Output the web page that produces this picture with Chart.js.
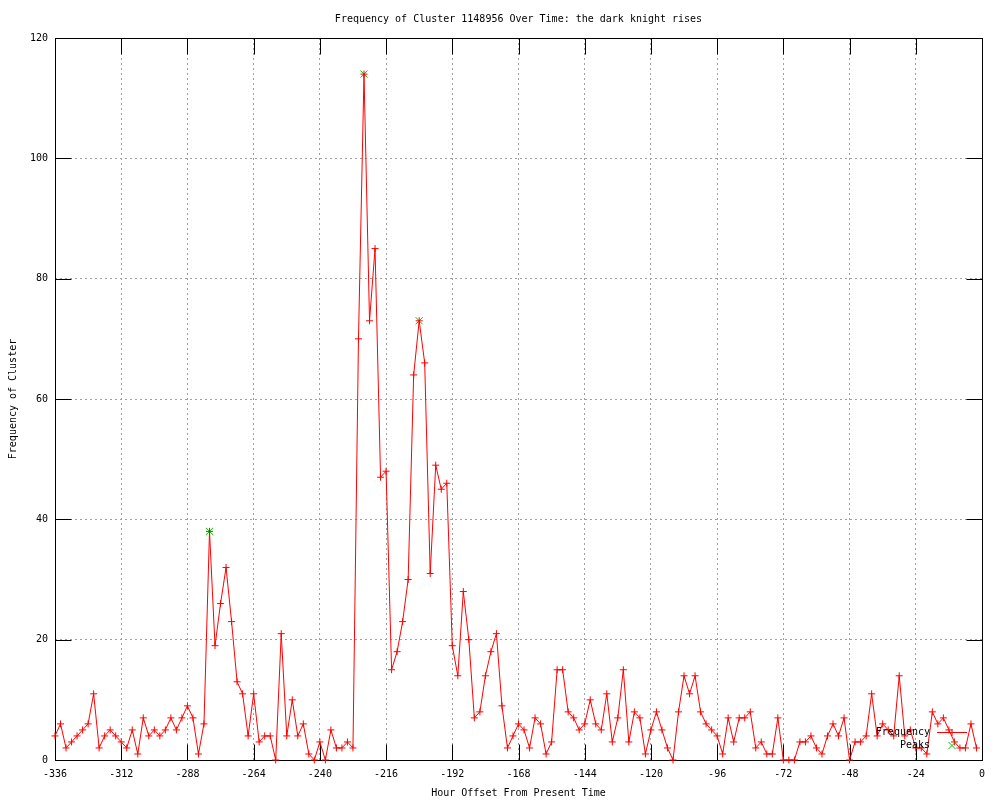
<!DOCTYPE html>
<html>
<head>
<meta charset="utf-8">
<script src="https://cdn.jsdelivr.net/npm/chart.js@4.4.1/dist/chart.umd.min.js"></script>
<style>
  html, body { margin: 0; padding: 0; background: #fff; }
  #wrap { width: 1000px; height: 800px; }
</style>
</head>
<body>
<div id="wrap"><canvas id="clusterChart" width="1000" height="800"></canvas></div>
<script>
// hours run from -336 in steps of 2 (one reading every two hours)
const hourStart = -336;
const hourStep = 2;
const frequency = [
  4, 6, 2, 3, 4, 5, 6, 11, 2, 4,
  5, 4, 3, 2, 5, 1, 7, 4, 5, 4,
  5, 7, 5, 7, 9, 7, 1, 6, 38, 19,
  26, 32, 23, 13, 11, 4, 11, 3, 4, 4,
  0, 21, 4, 10, 4, 6, 1, 0, 3, 0,
  5, 2, 2, 3, 2, 70, 114, 73, 85, 47,
  48, 15, 18, 23, 30, 64, 73, 66, 31, 49,
  45, 46, 19, 14, 28, 20, 7, 8, 14, 18,
  21, 9, 2, 4, 6, 5, 2, 7, 6, 1,
  3, 15, 15, 8, 7, 5, 6, 10, 6, 5,
  11, 3, 7, 15, 3, 8, 7, 1, 5, 8,
  5, 2, 0, 8, 14, 11, 14, 8, 6, 5,
  4, 1, 7, 3, 7, 7, 8, 2, 3, 1,
  1, 7, 0, 0, 0, 3, 3, 4, 2, 1,
  4, 6, 4, 7, 0, 3, 3, 4, 11, 4,
  6, 5, 4, 14, 4, 5, 2, 2, 1, 8,
  6, 7, 5, 3, 2, 2, 6, 2
];
const hours = frequency.map((v, i) => hourStart + i * hourStep);
const peakHours = [-280, -224, -204];
const peakValues = [38, 114, 73];

const FONT = 'DejaVu Sans Mono';

// gnuplot style box with inward ticks on all four sides
const frameTicks = {
  id: 'frameTicks',
  beforeDatasetsDraw(chart) {
    const { ctx, chartArea: a, scales: { x, y } } = chart;
    const L = Math.round(a.left) + 0.5, R = Math.round(a.right) + 0.5;
    const T = Math.round(a.top) + 0.5, B = Math.round(a.bottom) + 0.5;
    ctx.save();
    ctx.strokeStyle = '#000';
    ctx.lineWidth = 1;
    ctx.beginPath();
    x.ticks.forEach(t => {
      const px = Math.round(x.getPixelForValue(t.value)) + 0.5;
      ctx.moveTo(px, B); ctx.lineTo(px, B - 16);
      ctx.moveTo(px, T); ctx.lineTo(px, T + 16);
    });
    y.ticks.forEach(t => {
      const py = Math.round(y.getPixelForValue(t.value)) + 0.5;
      ctx.moveTo(L, py); ctx.lineTo(L + 16, py);
      ctx.moveTo(R, py); ctx.lineTo(R - 16, py);
    });
    ctx.stroke();
    ctx.strokeRect(L, T, R - L, B - T);
    ctx.restore();
  }
};

// key in the lower right corner, text left of the sample
const keyBox = {
  id: 'keyBox',
  afterDatasetsDraw(chart) {
    const { ctx, chartArea: a } = chart;
    const textX = a.right - 52;
    const sx1 = a.right - 45, sx2 = a.right - 15, sc = (sx1 + sx2) / 2;
    const y1 = a.bottom - 27.5, y2 = a.bottom - 14.5;
    ctx.save();
    ctx.font = '10px "' + FONT + '"';
    ctx.fillStyle = '#000';
    ctx.textAlign = 'right';
    ctx.textBaseline = 'middle';
    ctx.fillText('Frequency', textX, y1);
    ctx.fillText('Peaks', textX, y2);
    ctx.lineWidth = 1;
    ctx.strokeStyle = '#ff0000';
    ctx.beginPath();
    ctx.moveTo(sx1, y1); ctx.lineTo(sx2, y1);
    ctx.moveTo(sc, y1 - 3.5); ctx.lineTo(sc, y1 + 3.5);
    ctx.stroke();
    ctx.strokeStyle = '#00c000';
    ctx.beginPath();
    ctx.moveTo(sc - 3.5, y2 - 3.5); ctx.lineTo(sc + 3.5, y2 + 3.5);
    ctx.moveTo(sc - 3.5, y2 + 3.5); ctx.lineTo(sc + 3.5, y2 - 3.5);
    ctx.stroke();
    ctx.restore();
  }
};

const ctx = document.getElementById('clusterChart');
const chart = new Chart(ctx, {
  type: 'line',
  data: {
    datasets: [{
      label: 'Frequency',
      data: hours.map((h, i) => ({ x: h, y: frequency[i] })),
      borderColor: '#ff0000',
      borderWidth: 1,
      pointStyle: 'cross',
      pointRadius: 3.5,
      pointBorderWidth: 1,
      pointBorderColor: '#ff0000',
      tension: 0,
      fill: false,
      clip: 5,
      order: 0
    }, {
      label: 'Peaks',
      data: peakHours.map((h, i) => ({ x: h, y: peakValues[i] })),
      showLine: false,
      pointStyle: 'crossRot',
      pointRadius: 5,
      pointBorderWidth: 1,
      pointBorderColor: '#00c000',
      clip: 6,
      order: 1
    }]
  },
  options: {
    responsive: false,
    animation: false,
    devicePixelRatio: 1,
    layout: { padding: { left: 0, right: 18, top: 0, bottom: 0 } },
    plugins: {
      legend: { display: false },
      tooltip: { enabled: false },
      title: {
        display: true,
        fullSize: false,
        text: 'Frequency of Cluster 1148956 Over Time: the dark knight rises',
        color: '#000',
        font: { family: FONT, size: 10, weight: 'normal', lineHeight: 1.2 },
        padding: { top: 13, bottom: 13 }
      }
    },
    scales: {
      x: {
        type: 'linear',
        position: 'bottom',
        min: -336,
        max: 0,
        afterFit(scale) { scale.height = 40; },
        ticks: {
          stepSize: 24,
          autoSkip: false,
          maxRotation: 0,
          padding: 8,
          color: '#000',
          font: { family: FONT, size: 10 }
        },
        grid: { color: '#a0a0a0', lineWidth: 1, drawTicks: false },
        border: { display: false, dash: [2, 3] },
        title: {
          display: true,
          text: 'Hour Offset From Present Time',
          color: '#000',
          font: { family: FONT, size: 10, lineHeight: 1.2 },
          padding: { top: 0, bottom: 1 }
        }
      },
      y: {
        min: 0,
        max: 120,
        afterFit(scale) { scale.width = 55; },
        ticks: {
          stepSize: 20,
          padding: 7,
          color: '#000',
          font: { family: FONT, size: 10 }
        },
        grid: { color: '#a0a0a0', lineWidth: 1, drawTicks: false },
        border: { display: false, dash: [2, 3] },
        title: {
          display: true,
          text: 'Frequency of Cluster',
          color: '#000',
          font: { family: FONT, size: 10, lineHeight: 1.2 },
          padding: { top: 7, bottom: 0 }
        }
      }
    }
  },
  plugins: [frameTicks, keyBox]
});
</script>
</body>
</html>
